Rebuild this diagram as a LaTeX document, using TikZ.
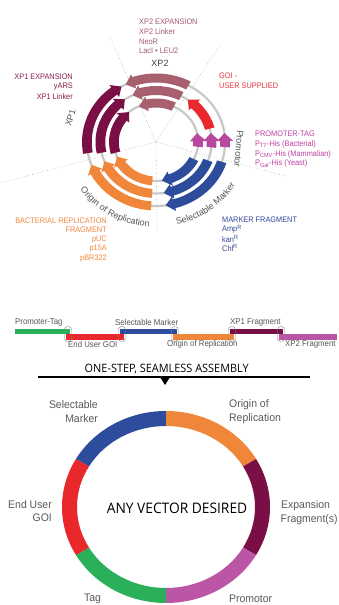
\documentclass[tikz,border=0pt]{standalone}
\usepackage{fontspec}
\setmainfont{Liberation Sans}
\newfontfamily\condf[FakeStretch=0.92]{Liberation Sans}
\newfontfamily\ringf[FakeStretch=0.95]{Liberation Sans}
\newfontfamily\headf[FakeStretch=0.95]{Open Sans}
\usetikzlibrary{decorations.text}
\definecolor{xptwo}{HTML}{A8606E}
\definecolor{xpone}{HTML}{7A0F45}
\definecolor{goired}{HTML}{E8282B}
\definecolor{promag}{HTML}{B8489E}
\definecolor{markblue}{HTML}{2E4C9C}
\definecolor{origor}{HTML}{F0863A}
\definecolor{tagreen}{HTML}{2BB05A}
\definecolor{ringmag}{HTML}{BB56A6}
\definecolor{xptwotxt}{HTML}{A25B70}
\definecolor{xponetxt}{HTML}{8A1E50}
\definecolor{goitxt}{HTML}{E6343A}
\definecolor{promtxt}{HTML}{C040A0}
\definecolor{marktxt}{HTML}{34469A}
\definecolor{origtxt}{HTML}{F0893F}
\definecolor{lblgray}{HTML}{555555}
\definecolor{ringlbl}{HTML}{5A5A5A}
\definecolor{spokegray}{HTML}{B0B0B0}
\definecolor{ringgray}{HTML}{C8C8C8}
\definecolor{ovalgray}{HTML}{8A8A8A}
% arrow band: colour, mid radius, tail angle, tip angle
\newcommand{\segarrow}[4]{%
  \pgfmathsetmacro{\sgS}{(#4>#3)?1:-1}%
  \pgfmathsetmacro{\sgHB}{#4-(\sgS)*8/(#2)*57.2958}%
  \pgfmathsetmacro{\sgOy}{#2+4.5}\pgfmathsetmacro{\sgOx}{1.08*\sgOy}%
  \pgfmathsetmacro{\sgIy}{#2-4.5}\pgfmathsetmacro{\sgIx}{1.08*\sgIy}%
  \pgfmathsetmacro{\sgHOy}{#2+7.5}\pgfmathsetmacro{\sgHOx}{1.08*\sgHOy}%
  \pgfmathsetmacro{\sgHIy}{#2-7.5}\pgfmathsetmacro{\sgHIx}{1.08*\sgHIy}%
  \pgfmathsetmacro{\sgMy}{#2}\pgfmathsetmacro{\sgMx}{1.08*#2}%
  \fill[#1] ({#3}:{\sgOx pt} and {\sgOy pt})
    arc[start angle={#3}, end angle={\sgHB}, x radius={\sgOx pt}, y radius={\sgOy pt}]
    -- ({\sgHB}:{\sgHOx pt} and {\sgHOy pt})
    -- ({#4}:{\sgMx pt} and {\sgMy pt})
    -- ({\sgHB}:{\sgHIx pt} and {\sgHIy pt})
    -- ({\sgHB}:{\sgIx pt} and {\sgIy pt})
    arc[start angle={\sgHB}, end angle={#3}, x radius={\sgIx pt}, y radius={\sgIy pt}]
    -- cycle;}
% ring segment: colour, start, end
\newcommand{\ringseg}[3]{%
  \fill[#1] ({#2}:{104pt} and {96pt})
    arc[start angle={#2}, end angle={#3}, x radius=104pt, y radius=96pt]
    -- ({#3}:{89pt} and {81pt})
    arc[start angle={#3}, end angle={#2}, x radius=89pt, y radius=81pt] -- cycle;}
\begin{document}
\begin{tikzpicture}[x=1pt,y=1pt,
  lbl/.style={inner sep=0pt, font=\condf\fontsize{8}{9.6}\selectfont},
  glbl/.style={inner sep=0pt, text=lblgray, font=\fontsize{9}{10}\selectfont},
  barlbl/.style={inner sep=0pt, text=lblgray, font=\condf\fontsize{8.5}{10}\selectfont},
  ringtxt/.style={inner sep=0pt, text=ringlbl, font=\ringf\fontsize{11}{13}\selectfont},
  spoke/.style={draw=spokegray, dotted, line width=0.6pt},
  ringg/.style={draw=ringgray, line width=2.2pt},
  junction/.style={draw=ovalgray, line width=0.45pt, rounded corners=3pt}]
\fill[white] (0,0) rectangle (339,605);
\useasboundingbox (0,0) rectangle (339,605);

% ================= top plasmid map =================
\begin{scope}[shift={(156,463)}]
  \draw[spoke] (0,0) -- (-46,105);
  \draw[spoke] (0,0) -- (66,100);
  \draw[spoke] (0,0) -- (129,-34);
  \draw[spoke] (0,0) -- (-156,-41);
  \draw[spoke] (0,0) -- (1,-90);
  \draw[ringg] (0,0) ellipse[x radius=42.12pt, y radius=39pt];
  \draw[ringg] (0,0) ellipse[x radius=55.62pt, y radius=51.5pt];
  \draw[ringg] (0,0) ellipse[x radius=69.12pt, y radius=64pt];
  % XP2
  \segarrow{xptwo}{64}{62}{116}
  \segarrow{xptwo}{51.5}{63}{115}
  \segarrow{xptwo}{39}{65}{114}
  % XP1
  \segarrow{xpone}{64}{190}{120}
  \segarrow{xpone}{51.5}{192}{124}
  \segarrow{xpone}{39}{196}{130}
  % GOI
  \segarrow{goired}{51.5}{15}{55}
  % promoter
  \segarrow{promag}{64}{-4.5}{8}
  \segarrow{promag}{51.5}{-6}{10}
  \segarrow{promag}{39}{-7}{13}
  % marker
  \segarrow{markblue}{64}{-18}{-82}
  \segarrow{markblue}{51.5}{-21}{-82}
  \segarrow{markblue}{39}{-26}{-82}
  % origin
  \segarrow{origor}{64}{266}{201}
  \segarrow{origor}{51.5}{266}{202}
  \segarrow{origor}{39}{265}{202}
  % curved labels
  \path[decorate, decoration={text along path, text align=center,
      text={|\fontsize{9}{10}\selectfont\color{lblgray}|Origin of Replication}}]
    (212:{91.8pt} and {85pt}) arc[start angle=212, end angle=268, x radius=91.8pt, y radius=85pt];
  \path[decorate, decoration={text along path, text align=center,
      text={|\fontsize{9}{10}\selectfont\color{lblgray}|Selectable Marker}}]
    (-81:{91.8pt} and {85pt}) arc[start angle=-81, end angle=-26, x radius=91.8pt, y radius=85pt];
  \node[glbl, rotate=73] (xponearc) at (163:{89.6pt} and {83pt}) {XP1};
  \node[glbl, rotate=-95] (promarc) at (-5:{83.2pt} and {77pt}) {Promotor};
\end{scope}
\node[glbl, text=black!75] (xptwoarc) at (160,542) {XP2};

% top labels
\node[lbl, text=xptwotxt, anchor=west] (xa) at (139,583.3) {XP2 EXPANSION};
\node[lbl, text=xptwotxt, anchor=west] (xb) at (139,573.3) {XP2 Linker};
\node[lbl, text=xptwotxt, anchor=west] (xc) at (139,563.3) {NeoR};
\node[lbl, text=xptwotxt, anchor=west] (xd) at (139,554.0) {LacI • LEU2};

\node[lbl, text=xponetxt, anchor=east] (ya) at (73,528) {XP1 EXPANSION};
\node[lbl, text=xponetxt, anchor=east] (yb) at (73,518) {yARS};
\node[lbl, text=xponetxt, anchor=east] (yc) at (73,508.5) {XP1 Linker};

\node[lbl, text=goitxt, anchor=west] (ga) at (219,529) {GOI -};
\node[lbl, text=goitxt, anchor=west] (gb) at (219,519) {USER SUPPLIED};

\node[lbl, text=promtxt, anchor=west] (pa) at (255,471.7) {PROMOTER-TAG};
\node[lbl, text=promtxt, anchor=west] (pb) at (255,461) {P\textsubscript{T7}-His (Bacterial)};
\node[lbl, text=promtxt, anchor=west] (pc) at (255,451) {P\textsubscript{CMV}-His (Mammalian)};
\node[lbl, text=promtxt, anchor=west] (pd) at (255,441.5) {P\textsubscript{Gal}-His (Yeast)};

\node[lbl, text=marktxt, anchor=west] (ma) at (222,385) {MARKER FRAGMENT};
\node[lbl, text=marktxt, anchor=west] (mb) at (222,375.7) {Amp\textsuperscript{R}};
\node[lbl, text=marktxt, anchor=west] (mc) at (222,366) {kan\textsuperscript{R}};
\node[lbl, text=marktxt, anchor=west] (md) at (222,356.7) {Chl\textsuperscript{R}};

\node[lbl, text=origtxt, anchor=east] (oa) at (107,384.3) {BACTERIAL REPLICATION};
\node[lbl, text=origtxt, anchor=east] (ob) at (107,375) {FRAGMENT};
\node[lbl, text=origtxt, anchor=east] (oc) at (107,365.7) {pUC};
\node[lbl, text=origtxt, anchor=east] (od) at (107,356) {p15A};
\node[lbl, text=origtxt, anchor=east] (oe) at (107,346.7) {pBR322};

% ================= linear fragments =================
\draw[tagreen, line width=5.5pt] (15,273.5) -- (70,273.5);
\draw[goired, line width=5.5pt] (66,268) -- (124,268);
\draw[markblue, line width=5.5pt] (120,273.5) -- (177,273.5);
\draw[origor, line width=5.5pt] (173,268) -- (234,268);
\draw[xpone, line width=5.5pt] (230,273.5) -- (283,273.5);
\draw[ringmag, line width=5.5pt] (279,268) -- (337,268);
\foreach \jx in {68,122,175,232,281}{
  \draw[junction] (\jx-3.5,263.5) rectangle (\jx+3.5,278.5);
}
\node[barlbl, anchor=west] (bl1) at (15,283) {Promoter-Tag};
\node[barlbl, anchor=west] (bl2) at (68,260.5) {End User GOI};
\node[barlbl, anchor=west] (bl3) at (115,283) {Selectable Marker};
\node[barlbl, anchor=west] (bl4) at (167,260.5) {Origin of Replication};
\node[barlbl, anchor=west] (bl5) at (230,283) {XP1 Fragment};
\node[barlbl, anchor=west] (bl6) at (285,260.5) {XP2 Fragment};

\node[inner sep=0pt, font=\headf\fontsize{11.5}{13}\selectfont] (onestep) at (166.7,236) {ONE-STEP, SEAMLESS ASSEMBLY};
\draw[black, line width=1.2pt] (38,228) -- (310,228);
\fill[black] (160,228) -- (170,228) -- (165,220) -- cycle;

% ================= bottom vector ring =================
\begin{scope}[shift={(166,98)}]
  \ringseg{markblue}{90}{150}
  \ringseg{origor}{30}{90}
  \ringseg{xpone}{-30}{30}
  \ringseg{ringmag}{-90}{-30}
  \ringseg{tagreen}{210}{270}
  \ringseg{goired}{150}{210}
\end{scope}
\node[inner sep=0pt, font=\headf\fontsize{14.5}{16}\selectfont] (anyvec) at (177,97) {ANY VECTOR DESIRED};

\node[ringtxt, anchor=east] (r1a) at (98,200.5) {Selectable};
\node[ringtxt, anchor=east] (r1b) at (98,186.5) {Marker};
\node[ringtxt, anchor=west] (r2a) at (229,200.5) {Origin of};
\node[ringtxt, anchor=west] (r2b) at (229,186.5) {Replication};
\node[ringtxt, anchor=east] (r3a) at (52,100.5) {End User};
\node[ringtxt, anchor=east] (r3b) at (52,87) {GOI};
\node[ringtxt, anchor=west] (r4a) at (281,99) {Expansion};
\node[ringtxt, anchor=west] (r4b) at (280.5,85) {Fragment(s)};
\node[ringtxt] (r5) at (92.5,6) {Tag};
\node[ringtxt, anchor=west] (r6) at (229,6) {Promotor};
\end{tikzpicture}
\end{document}
